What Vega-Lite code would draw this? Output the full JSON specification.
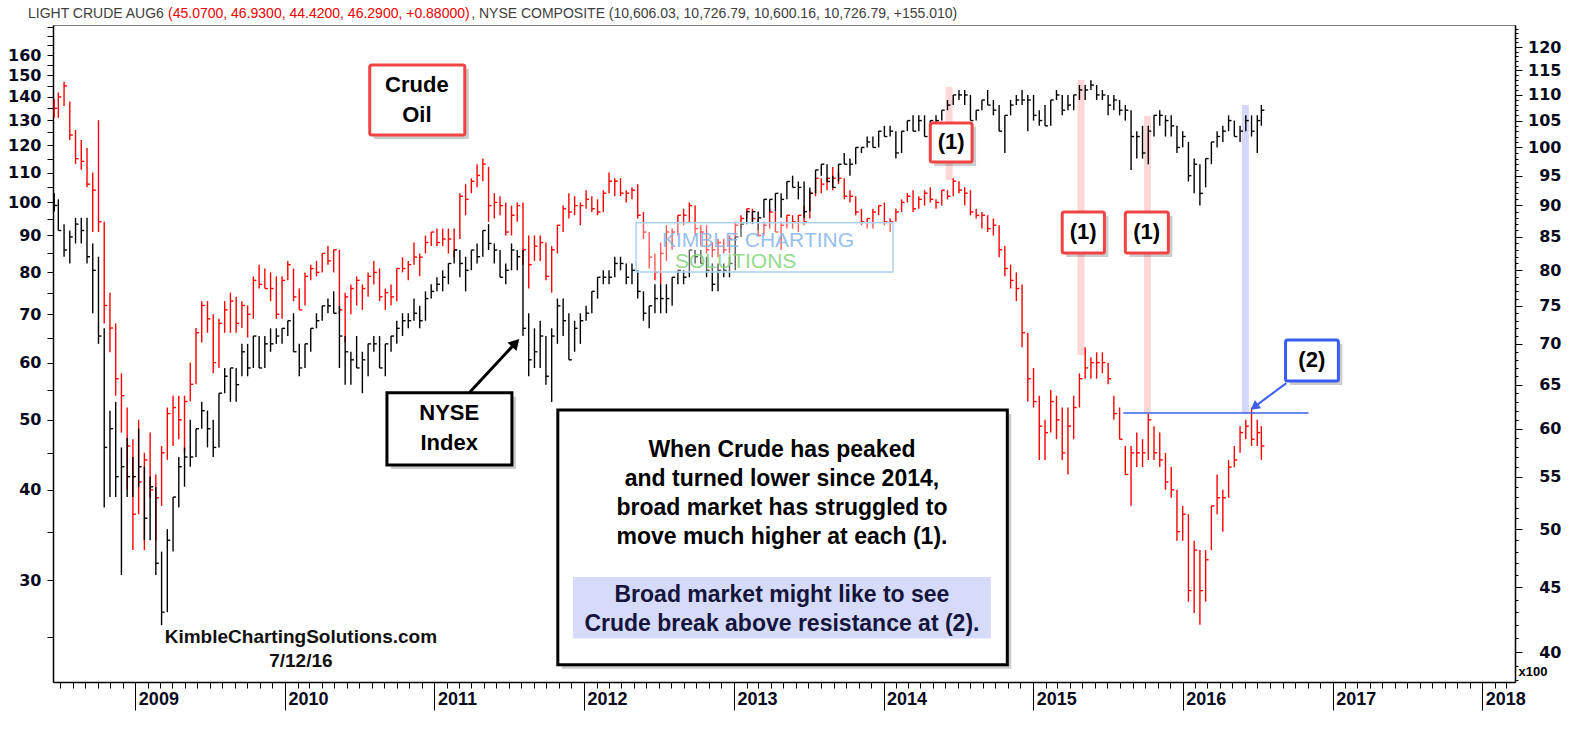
{
"$schema":"https://vega.github.io/schema/vega-lite/v6.json",
"width":1462,"height":657,
"autosize":{"type":"none"},
"padding":{"left":53,"top":25,"right":57,"bottom":52},
"background":"white",
"config":{"view":{"stroke":"#7f7f7f","strokeWidth":1}},
"title":{"text":"LIGHT CRUDE AUG6 \u00a0\u00a0\u00a0\u00a0\u00a0\u00a0\u00a0\u00a0\u00a0\u00a0\u00a0\u00a0\u00a0\u00a0\u00a0\u00a0\u00a0\u00a0\u00a0\u00a0\u00a0\u00a0\u00a0\u00a0\u00a0\u00a0\u00a0\u00a0\u00a0\u00a0\u00a0\u00a0\u00a0\u00a0\u00a0\u00a0\u00a0\u00a0\u00a0\u00a0\u00a0\u00a0\u00a0\u00a0\u00a0\u00a0\u00a0\u00a0\u00a0\u00a0\u00a0\u00a0\u00a0\u00a0\u00a0\u00a0\u00a0\u00a0\u00a0\u00a0\u00a0\u00a0\u00a0\u00a0\u00a0\u00a0\u00a0\u00a0\u00a0\u00a0\u00a0\u00a0\u00a0\u00a0\u00a0\u00a0\u00a0\u00a0, NYSE COMPOSITE (10,606.03, 10,726.79, 10,600.16, 10,726.79, +155.010)",
"subtitle":"\u200b\u00a0\u00a0\u00a0\u00a0\u00a0\u00a0\u00a0\u00a0\u00a0\u00a0\u00a0\u00a0\u00a0\u00a0\u00a0\u00a0\u00a0\u00a0\u00a0\u00a0\u00a0\u00a0\u00a0\u00a0\u00a0\u00a0\u00a0\u00a0\u00a0\u00a0\u00a0\u00a0\u00a0\u00a0\u00a0\u00a0(45.0700, 46.9300, 44.4200, 46.2900, +0.88000)",
"anchor":"start","frame":"group","dx":-25,"dy":6,"offset":4,"font":"Liberation Sans","fontSize":14,"fontWeight":"normal","color":"#404040","subtitleFont":"Liberation Sans","subtitleFontSize":14,"subtitleFontWeight":"normal","subtitleColor":"#ee0000","subtitlePadding":-14},
"datasets":{
"crude":[
{"d":"2008-06-17","h":139,"l":131,"c":135},{"d":"2008-06-27","h":142,"l":131,"c":140},{"d":"2008-07-11","h":147,"l":136,"c":145},{"d":"2008-07-25","h":138,"l":122,"c":124},{"d":"2008-08-08","h":126,"l":113,"c":115},{"d":"2008-08-22","h":122,"l":111,"c":114},{"d":"2008-09-05","h":119,"l":105,"c":106},{"d":"2008-09-19","h":110,"l":91,"c":104},{"d":"2008-10-03","h":130,"l":91,"c":94},{"d":"2008-10-17","h":94,"l":68,"c":72},{"d":"2008-10-31","h":75,"l":62,"c":67},{"d":"2008-11-14","h":68,"l":54,"c":57},{"d":"2008-11-28","h":58,"l":48,"c":54},{"d":"2008-12-12","h":52,"l":40,"c":46},{"d":"2008-12-26","h":47,"l":33,"c":37},
{"d":"2009-01-09","h":50,"l":37,"c":41},{"d":"2009-01-23","h":45,"l":33,"c":44},{"d":"2009-02-06","h":48,"l":39,"c":40},{"d":"2009-02-20","h":42,"l":34,"c":39},{"d":"2009-03-06","h":46,"l":38,"c":45},{"d":"2009-03-20","h":52,"l":44,"c":51},{"d":"2009-04-03","h":54,"l":46,"c":52},{"d":"2009-04-17","h":54,"l":47,"c":50},{"d":"2009-05-01","h":54,"l":45,"c":53},{"d":"2009-05-15","h":60,"l":53,"c":56},{"d":"2009-05-29","h":67,"l":56,"c":66},{"d":"2009-06-12","h":73,"l":64,"c":72},{"d":"2009-06-26","h":73,"l":66,"c":69},{"d":"2009-07-10","h":70,"l":58,"c":60},{"d":"2009-07-24","h":69,"l":59,"c":68},{"d":"2009-08-07","h":73,"l":66,"c":71},{"d":"2009-08-21","h":75,"l":66,"c":73},{"d":"2009-09-04","h":74,"l":66,"c":68},{"d":"2009-09-18","h":73,"l":67,"c":72},{"d":"2009-10-02","h":72,"l":65,"c":70},{"d":"2009-10-16","h":79,"l":69,"c":78},{"d":"2009-10-30","h":82,"l":76,"c":77},{"d":"2009-11-13","h":81,"l":76,"c":76},{"d":"2009-11-27","h":80,"l":73,"c":76},{"d":"2009-12-11","h":79,"l":69,"c":70},{"d":"2009-12-25","h":79,"l":69,"c":78},
{"d":"2010-01-08","h":83,"l":78,"c":82},{"d":"2010-01-22","h":81,"l":73,"c":74},{"d":"2010-02-05","h":76,"l":71,"c":71},{"d":"2010-02-19","h":80,"l":72,"c":79},{"d":"2010-03-05","h":82,"l":78,"c":81},{"d":"2010-03-19","h":83,"l":79,"c":80},{"d":"2010-04-02","h":85,"l":80,"c":85},{"d":"2010-04-16","h":87,"l":82,"c":83},{"d":"2010-04-30","h":86,"l":80,"c":86},{"d":"2010-05-14","h":86,"l":70,"c":71},{"d":"2010-05-28","h":75,"l":64,"c":74},{"d":"2010-06-11","h":77,"l":70,"c":76},{"d":"2010-06-25","h":79,"l":72,"c":78},{"d":"2010-07-09","h":77,"l":71,"c":76},{"d":"2010-07-23","h":80,"l":74,"c":79},{"d":"2010-08-06","h":83,"l":77,"c":80},{"d":"2010-08-20","h":81,"l":73,"c":74},{"d":"2010-09-03","h":76,"l":71,"c":75},{"d":"2010-09-17","h":77,"l":72,"c":74},{"d":"2010-10-01","h":81,"l":73,"c":81},{"d":"2010-10-15","h":84,"l":80,"c":81},{"d":"2010-10-29","h":83,"l":78,"c":82},{"d":"2010-11-12","h":88,"l":82,"c":84},{"d":"2010-11-26","h":85,"l":79,"c":84},{"d":"2010-12-10","h":90,"l":85,"c":88},{"d":"2010-12-24","h":91,"l":87,"c":91},
{"d":"2011-01-07","h":92,"l":87,"c":88},{"d":"2011-01-21","h":92,"l":87,"c":89},{"d":"2011-02-04","h":92,"l":85,"c":89},{"d":"2011-02-18","h":92,"l":84,"c":86},{"d":"2011-03-04","h":103,"l":89,"c":102},{"d":"2011-03-18","h":106,"l":96,"c":101},{"d":"2011-04-01","h":108,"l":103,"c":107},{"d":"2011-04-15","h":113,"l":105,"c":109},{"d":"2011-04-29","h":115,"l":107,"c":113},{"d":"2011-05-13","h":112,"l":94,"c":99},{"d":"2011-05-27","h":103,"l":95,"c":100},{"d":"2011-06-10","h":102,"l":96,"c":99},{"d":"2011-06-24","h":100,"l":90,"c":91},{"d":"2011-07-08","h":99,"l":90,"c":96},{"d":"2011-07-22","h":100,"l":94,"c":99},{"d":"2011-08-05","h":100,"l":82,"c":86},{"d":"2011-08-19","h":90,"l":76,"c":82},{"d":"2011-09-02","h":90,"l":83,"c":87},{"d":"2011-09-16","h":90,"l":83,"c":88},{"d":"2011-09-30","h":88,"l":78,"c":79},{"d":"2011-10-14","h":87,"l":75,"c":86},{"d":"2011-10-28","h":93,"l":85,"c":93},{"d":"2011-11-11","h":99,"l":91,"c":98},{"d":"2011-11-25","h":103,"l":95,"c":97},{"d":"2011-12-09","h":102,"l":96,"c":99},{"d":"2011-12-23","h":100,"l":93,"c":99},
{"d":"2012-01-06","h":104,"l":98,"c":101},{"d":"2012-01-20","h":102,"l":97,"c":98},{"d":"2012-02-03","h":101,"l":96,"c":97},{"d":"2012-02-17","h":104,"l":97,"c":103},{"d":"2012-03-02","h":110,"l":103,"c":107},{"d":"2012-03-16","h":108,"l":102,"c":107},{"d":"2012-03-30","h":108,"l":102,"c":103},{"d":"2012-04-13","h":104,"l":100,"c":103},{"d":"2012-04-27","h":105,"l":101,"c":104},{"d":"2012-05-11","h":106,"l":95,"c":96},{"d":"2012-05-25","h":97,"l":89,"c":91},{"d":"2012-06-08","h":91,"l":81,"c":84},{"d":"2012-06-22","h":85,"l":78,"c":80},{"d":"2012-07-06","h":88,"l":77,"c":85},{"d":"2012-07-20","h":93,"l":83,"c":91},{"d":"2012-08-03","h":92,"l":86,"c":91},{"d":"2012-08-17","h":96,"l":90,"c":96},{"d":"2012-08-31","h":98,"l":93,"c":96},{"d":"2012-09-14","h":100,"l":94,"c":99},{"d":"2012-09-28","h":99,"l":90,"c":92},{"d":"2012-10-12","h":93,"l":87,"c":91},{"d":"2012-10-26","h":93,"l":85,"c":86},{"d":"2012-11-09","h":88,"l":84,"c":86},{"d":"2012-11-23","h":89,"l":84,"c":88},{"d":"2012-12-07","h":89,"l":85,"c":86},{"d":"2012-12-21","h":90,"l":85,"c":89},
{"d":"2013-01-04","h":94,"l":89,"c":93},{"d":"2013-01-18","h":96,"l":92,"c":95},{"d":"2013-02-01","h":98,"l":95,"c":98},{"d":"2013-02-15","h":98,"l":94,"c":95},{"d":"2013-03-01","h":95,"l":90,"c":90},{"d":"2013-03-15","h":94,"l":90,"c":93},{"d":"2013-03-29","h":98,"l":92,"c":97},{"d":"2013-04-12","h":97,"l":91,"c":91},{"d":"2013-04-26","h":94,"l":86,"c":93},{"d":"2013-05-10","h":96,"l":92,"c":96},{"d":"2013-05-24","h":96,"l":92,"c":94},{"d":"2013-06-07","h":96,"l":91,"c":96},{"d":"2013-06-21","h":99,"l":93,"c":94},{"d":"2013-07-05","h":104,"l":95,"c":103},{"d":"2013-07-19","h":108,"l":102,"c":108},{"d":"2013-08-02","h":108,"l":103,"c":106},{"d":"2013-08-16","h":108,"l":104,"c":108},{"d":"2013-08-30","h":112,"l":104,"c":108},{"d":"2013-09-13","h":110,"l":106,"c":108},{"d":"2013-09-27","h":108,"l":101,"c":102},{"d":"2013-10-11","h":104,"l":100,"c":102},{"d":"2013-10-25","h":102,"l":96,"c":97},{"d":"2013-11-08","h":98,"l":93,"c":94},{"d":"2013-11-22","h":95,"l":92,"c":95},{"d":"2013-12-06","h":98,"l":92,"c":97},{"d":"2013-12-20","h":99,"l":96,"c":99},
{"d":"2014-01-03","h":100,"l":93,"c":94},{"d":"2014-01-17","h":95,"l":91,"c":94},{"d":"2014-01-31","h":98,"l":94,"c":97},{"d":"2014-02-14","h":101,"l":97,"c":100},{"d":"2014-02-28","h":103,"l":100,"c":102},{"d":"2014-03-14","h":104,"l":97,"c":98},{"d":"2014-03-28","h":102,"l":98,"c":101},{"d":"2014-04-11","h":104,"l":99,"c":103},{"d":"2014-04-25","h":105,"l":100,"c":101},{"d":"2014-05-09","h":101,"l":98,"c":100},{"d":"2014-05-23","h":104,"l":99,"c":104},{"d":"2014-06-06","h":104,"l":101,"c":102},{"d":"2014-06-20","h":108,"l":102,"c":107},{"d":"2014-07-04","h":107,"l":103,"c":104},{"d":"2014-07-18","h":105,"l":99,"c":103},{"d":"2014-08-01","h":104,"l":96,"c":97},{"d":"2014-08-15","h":98,"l":95,"c":96},{"d":"2014-08-29","h":97,"l":92,"c":96},{"d":"2014-09-12","h":96,"l":91,"c":92},{"d":"2014-09-26","h":95,"l":90,"c":93},{"d":"2014-10-10","h":93,"l":84,"c":86},{"d":"2014-10-24","h":87,"l":79,"c":81},{"d":"2014-11-07","h":82,"l":76,"c":78},{"d":"2014-11-21","h":80,"l":73,"c":76},{"d":"2014-12-05","h":77,"l":63,"c":66},{"d":"2014-12-19","h":66,"l":53,"c":57},
{"d":"2015-01-02","h":59,"l":52,"c":53},{"d":"2015-01-16","h":54,"l":44,"c":49},{"d":"2015-01-30","h":50,"l":44,"c":48},{"d":"2015-02-13","h":55,"l":48,"c":53},{"d":"2015-02-27","h":54,"l":47,"c":50},{"d":"2015-03-13","h":52,"l":44,"c":45},{"d":"2015-03-27","h":52,"l":42,"c":49},{"d":"2015-04-10","h":54,"l":47,"c":52},{"d":"2015-04-24","h":58,"l":52,"c":57},{"d":"2015-05-08","h":63,"l":57,"c":59},{"d":"2015-05-22","h":61,"l":57,"c":60},{"d":"2015-06-05","h":62,"l":57,"c":60},{"d":"2015-06-19","h":62,"l":58,"c":60},{"d":"2015-07-03","h":60,"l":56,"c":57},{"d":"2015-07-17","h":54,"l":50,"c":51},{"d":"2015-07-31","h":52,"l":47,"c":47},{"d":"2015-08-14","h":46,"l":42,"c":42},{"d":"2015-08-28","h":46,"l":38,"c":45},{"d":"2015-09-11","h":48,"l":43,"c":45},{"d":"2015-09-25","h":47,"l":43,"c":45},{"d":"2015-10-09","h":51,"l":44,"c":50},{"d":"2015-10-23","h":49,"l":44,"c":45},{"d":"2015-11-06","h":48,"l":43,"c":44},{"d":"2015-11-20","h":45,"l":40,"c":41},{"d":"2015-12-04","h":43,"l":39,"c":40},{"d":"2015-12-18","h":40,"l":34,"c":35},
{"d":"2016-01-01","h":38,"l":34,"c":37},{"d":"2016-01-15","h":37,"l":28,"c":29},{"d":"2016-01-29","h":34,"l":27,"c":33},{"d":"2016-02-12","h":33,"l":26,"c":29},{"d":"2016-02-26","h":33,"l":28,"c":32},{"d":"2016-03-11","h":38,"l":33,"c":38},{"d":"2016-03-25","h":42,"l":37,"c":39},{"d":"2016-04-08","h":40,"l":35,"c":39},{"d":"2016-04-22","h":44,"l":39,"c":43},{"d":"2016-05-06","h":46,"l":43,"c":44},{"d":"2016-05-20","h":49,"l":45,"c":48},{"d":"2016-06-03","h":50,"l":47,"c":49},{"d":"2016-06-17","h":52,"l":46,"c":47},{"d":"2016-07-01","h":50,"l":46,"c":48},{"d":"2016-07-11","h":49,"l":44,"c":46}
],
"nyse":[
{"d":"2008-06-17","h":92,"l":89,"c":90},{"d":"2008-06-27","h":91,"l":86,"c":86},{"d":"2008-07-11","h":87,"l":82,"c":83},{"d":"2008-07-25","h":86,"l":81,"c":85},{"d":"2008-08-08","h":88,"l":84,"c":87},{"d":"2008-08-22","h":88,"l":84,"c":86},{"d":"2008-09-05","h":88,"l":81,"c":82},{"d":"2008-09-19","h":84,"l":74,"c":80},{"d":"2008-10-03","h":82,"l":70,"c":71},{"d":"2008-10-17","h":72,"l":52,"c":58},{"d":"2008-10-31","h":62,"l":53,"c":60},{"d":"2008-11-14","h":63,"l":53,"c":55},{"d":"2008-11-28","h":58,"l":46,"c":56},{"d":"2008-12-12","h":59,"l":53,"c":55},{"d":"2008-12-26","h":57,"l":53,"c":55},
{"d":"2009-01-09","h":60,"l":54,"c":56},{"d":"2009-01-23","h":56,"l":49,"c":51},{"d":"2009-02-06","h":55,"l":49,"c":54},{"d":"2009-02-20","h":54,"l":46,"c":47},{"d":"2009-03-06","h":48,"l":42,"c":43},{"d":"2009-03-20","h":50,"l":43,"c":49},{"d":"2009-04-03","h":53,"l":48,"c":53},{"d":"2009-04-17","h":57,"l":52,"c":56},{"d":"2009-05-01","h":58,"l":54,"c":57},{"d":"2009-05-15","h":61,"l":56,"c":57},{"d":"2009-05-29","h":60,"l":57,"c":60},{"d":"2009-06-12","h":63,"l":60,"c":62},{"d":"2009-06-26","h":62,"l":58,"c":60},{"d":"2009-07-10","h":61,"l":57,"c":58},{"d":"2009-07-24","h":64,"l":58,"c":64},{"d":"2009-08-07","h":67,"l":64,"c":66},{"d":"2009-08-21","h":67,"l":63,"c":67},{"d":"2009-09-04","h":67,"l":63,"c":65},{"d":"2009-09-18","h":70,"l":66,"c":69},{"d":"2009-10-02","h":70,"l":66,"c":67},{"d":"2009-10-16","h":71,"l":67,"c":71},{"d":"2009-10-30","h":71,"l":67,"c":67},{"d":"2009-11-13","h":71,"l":67,"c":70},{"d":"2009-11-27","h":72,"l":69,"c":70},{"d":"2009-12-11","h":72,"l":70,"c":71},{"d":"2009-12-25","h":72,"l":70,"c":72},
{"d":"2010-01-08","h":73,"l":71,"c":73},{"d":"2010-01-22","h":74,"l":69,"c":69},{"d":"2010-02-05","h":70,"l":66,"c":67},{"d":"2010-02-19","h":70,"l":67,"c":70},{"d":"2010-03-05","h":72,"l":69,"c":72},{"d":"2010-03-19","h":74,"l":72,"c":73},{"d":"2010-04-02","h":75,"l":73,"c":75},{"d":"2010-04-16","h":76,"l":74,"c":75},{"d":"2010-04-30","h":77,"l":74,"c":74},{"d":"2010-05-14","h":75,"l":67,"c":71},{"d":"2010-05-28","h":71,"l":65,"c":69},{"d":"2010-06-11","h":69,"l":65,"c":68},{"d":"2010-06-25","h":71,"l":67,"c":67},{"d":"2010-07-09","h":69,"l":64,"c":68},{"d":"2010-07-23","h":70,"l":66,"c":70},{"d":"2010-08-06","h":71,"l":69,"c":70},{"d":"2010-08-20","h":71,"l":67,"c":67},{"d":"2010-09-03","h":70,"l":66,"c":70},{"d":"2010-09-17","h":71,"l":69,"c":71},{"d":"2010-10-01","h":73,"l":70,"c":72},{"d":"2010-10-15","h":74,"l":71,"c":73},{"d":"2010-10-29","h":74,"l":72,"c":73},{"d":"2010-11-12","h":76,"l":73,"c":74},{"d":"2010-11-26","h":75,"l":72,"c":73},{"d":"2010-12-10","h":77,"l":73,"c":76},{"d":"2010-12-24","h":78,"l":76,"c":77},
{"d":"2011-01-07","h":79,"l":77,"c":78},{"d":"2011-01-21","h":80,"l":77,"c":79},{"d":"2011-02-04","h":81,"l":78,"c":81},{"d":"2011-02-18","h":83,"l":81,"c":83},{"d":"2011-03-04","h":83,"l":79,"c":81},{"d":"2011-03-18","h":82,"l":77,"c":80},{"d":"2011-04-01","h":83,"l":80,"c":83},{"d":"2011-04-15","h":84,"l":81,"c":82},{"d":"2011-04-29","h":86,"l":82,"c":86},{"d":"2011-05-13","h":87,"l":83,"c":84},{"d":"2011-05-27","h":84,"l":81,"c":83},{"d":"2011-06-10","h":83,"l":79,"c":79},{"d":"2011-06-24","h":81,"l":78,"c":80},{"d":"2011-07-08","h":84,"l":80,"c":83},{"d":"2011-07-22","h":83,"l":80,"c":82},{"d":"2011-08-05","h":83,"l":71,"c":72},{"d":"2011-08-19","h":74,"l":66,"c":68},{"d":"2011-09-02","h":72,"l":67,"c":69},{"d":"2011-09-16","h":73,"l":67,"c":71},{"d":"2011-09-30","h":71,"l":65,"c":66},{"d":"2011-10-14","h":72,"l":63,"c":71},{"d":"2011-10-28","h":76,"l":70,"c":75},{"d":"2011-11-11","h":76,"l":71,"c":73},{"d":"2011-11-25","h":74,"l":68,"c":68},{"d":"2011-12-09","h":73,"l":69,"c":72},{"d":"2011-12-23","h":74,"l":70,"c":73},
{"d":"2012-01-06","h":75,"l":73,"c":74},{"d":"2012-01-20","h":77,"l":74,"c":77},{"d":"2012-02-03","h":79,"l":76,"c":79},{"d":"2012-02-17","h":80,"l":78,"c":79},{"d":"2012-03-02","h":80,"l":78,"c":79},{"d":"2012-03-16","h":82,"l":79,"c":81},{"d":"2012-03-30","h":82,"l":80,"c":81},{"d":"2012-04-13","h":81,"l":78,"c":79},{"d":"2012-04-27","h":81,"l":78,"c":80},{"d":"2012-05-11","h":80,"l":76,"c":77},{"d":"2012-05-25","h":77,"l":73,"c":74},{"d":"2012-06-08","h":75,"l":72,"c":75},{"d":"2012-06-22","h":78,"l":74,"c":76},{"d":"2012-07-06","h":78,"l":74,"c":76},{"d":"2012-07-20","h":78,"l":74,"c":76},{"d":"2012-08-03","h":79,"l":75,"c":79},{"d":"2012-08-17","h":80,"l":78,"c":80},{"d":"2012-08-31","h":80,"l":78,"c":79},{"d":"2012-09-14","h":83,"l":79,"c":83},{"d":"2012-09-28","h":83,"l":81,"c":82},{"d":"2012-10-12","h":83,"l":81,"c":81},{"d":"2012-10-26","h":82,"l":79,"c":80},{"d":"2012-11-09","h":81,"l":77,"c":78},{"d":"2012-11-23","h":81,"l":77,"c":80},{"d":"2012-12-07","h":81,"l":79,"c":80},{"d":"2012-12-21","h":82,"l":79,"c":81},
{"d":"2013-01-04","h":85,"l":80,"c":85},{"d":"2013-01-18","h":87,"l":85,"c":87},{"d":"2013-02-01","h":89,"l":87,"c":89},{"d":"2013-02-15","h":89,"l":87,"c":89},{"d":"2013-03-01","h":89,"l":86,"c":88},{"d":"2013-03-15","h":91,"l":88,"c":91},{"d":"2013-03-29","h":91,"l":89,"c":91},{"d":"2013-04-12","h":92,"l":89,"c":92},{"d":"2013-04-26","h":92,"l":88,"c":91},{"d":"2013-05-10","h":94,"l":91,"c":94},{"d":"2013-05-24","h":95,"l":93,"c":93},{"d":"2013-06-07","h":94,"l":91,"c":93},{"d":"2013-06-21","h":94,"l":88,"c":89},{"d":"2013-07-05","h":93,"l":89,"c":92},{"d":"2013-07-19","h":96,"l":92,"c":96},{"d":"2013-08-02","h":97,"l":95,"c":97},{"d":"2013-08-16","h":97,"l":94,"c":94},{"d":"2013-08-30","h":95,"l":93,"c":93},{"d":"2013-09-13","h":97,"l":94,"c":97},{"d":"2013-09-27","h":99,"l":97,"c":97},{"d":"2013-10-11","h":98,"l":95,"c":97},{"d":"2013-10-25","h":100,"l":97,"c":100},{"d":"2013-11-08","h":100,"l":99,"c":100},{"d":"2013-11-22","h":102,"l":100,"c":101},{"d":"2013-12-06","h":102,"l":100,"c":100},{"d":"2013-12-20","h":103,"l":100,"c":103},
{"d":"2014-01-03","h":104,"l":102,"c":102},{"d":"2014-01-17","h":104,"l":102,"c":103},{"d":"2014-01-31","h":103,"l":98,"c":99},{"d":"2014-02-14","h":103,"l":99,"c":103},{"d":"2014-02-28","h":105,"l":103,"c":105},{"d":"2014-03-14","h":106,"l":103,"c":103},{"d":"2014-03-28","h":106,"l":103,"c":105},{"d":"2014-04-11","h":106,"l":102,"c":102},{"d":"2014-04-25","h":105,"l":102,"c":105},{"d":"2014-05-09","h":106,"l":104,"c":105},{"d":"2014-05-23","h":107,"l":105,"c":107},{"d":"2014-06-06","h":109,"l":107,"c":108},{"d":"2014-06-20","h":110,"l":108,"c":110},{"d":"2014-07-04","h":111,"l":109,"c":110},{"d":"2014-07-18","h":111,"l":108,"c":110},{"d":"2014-08-01","h":110,"l":105,"c":105},{"d":"2014-08-15","h":107,"l":105,"c":107},{"d":"2014-08-29","h":109,"l":107,"c":109},{"d":"2014-09-12","h":111,"l":108,"c":108},{"d":"2014-09-26","h":109,"l":106,"c":107},{"d":"2014-10-10","h":108,"l":103,"c":103},{"d":"2014-10-24","h":106,"l":99,"c":106},{"d":"2014-11-07","h":109,"l":106,"c":108},{"d":"2014-11-21","h":110,"l":108,"c":109},{"d":"2014-12-05","h":111,"l":108,"c":109},{"d":"2014-12-19","h":110,"l":103,"c":109},
{"d":"2015-01-02","h":110,"l":105,"c":106},{"d":"2015-01-16","h":107,"l":104,"c":105},{"d":"2015-01-30","h":108,"l":104,"c":104},{"d":"2015-02-13","h":109,"l":104,"c":109},{"d":"2015-02-27","h":111,"l":109,"c":110},{"d":"2015-03-13","h":110,"l":106,"c":107},{"d":"2015-03-27","h":110,"l":107,"c":108},{"d":"2015-04-10","h":110,"l":107,"c":110},{"d":"2015-04-24","h":112,"l":109,"c":111},{"d":"2015-05-08","h":112,"l":109,"c":111},{"d":"2015-05-22","h":113,"l":111,"c":112},{"d":"2015-06-05","h":112,"l":109,"c":110},{"d":"2015-06-19","h":111,"l":109,"c":110},{"d":"2015-07-03","h":110,"l":106,"c":108},{"d":"2015-07-17","h":110,"l":107,"c":109},{"d":"2015-07-31","h":109,"l":106,"c":107},{"d":"2015-08-14","h":108,"l":105,"c":107},{"d":"2015-08-28","h":107,"l":96,"c":102},{"d":"2015-09-11","h":103,"l":98,"c":102},{"d":"2015-09-25","h":104,"l":98,"c":99},{"d":"2015-10-09","h":104,"l":97,"c":103},{"d":"2015-10-23","h":106,"l":102,"c":106},{"d":"2015-11-06","h":107,"l":104,"c":106},{"d":"2015-11-20","h":106,"l":102,"c":105},{"d":"2015-12-04","h":106,"l":102,"c":104},{"d":"2015-12-18","h":104,"l":99,"c":100},
{"d":"2016-01-01","h":103,"l":100,"c":102},{"d":"2016-01-15","h":101,"l":94,"c":95},{"d":"2016-01-29","h":98,"l":92,"c":97},{"d":"2016-02-12","h":97,"l":90,"c":92},{"d":"2016-02-26","h":98,"l":93,"c":98},{"d":"2016-03-11","h":101,"l":97,"c":101},{"d":"2016-03-25","h":103,"l":100,"c":102},{"d":"2016-04-08","h":104,"l":101,"c":103},{"d":"2016-04-22","h":106,"l":103,"c":105},{"d":"2016-05-06","h":105,"l":102,"c":102},{"d":"2016-05-20","h":104,"l":101,"c":103},{"d":"2016-06-03","h":106,"l":103,"c":105},{"d":"2016-06-17","h":106,"l":102,"c":103},{"d":"2016-07-01","h":106,"l":99,"c":105},{"d":"2016-07-11","h":108,"l":104,"c":107}
]},
"encoding":{"x":{"field":"d","type":"temporal","title":null,"scale":{"domain":[{"year":2008,"month":6,"date":14},{"year":2018,"month":3,"date":22}],"nice":false},
 "axis":{"orient":"bottom","title":null,"grid":false,"tickCount":{"interval":"month","step":1},"labelExpr":"month(datum.value)===0 ? timeFormat(datum.value,'%Y') : ''","tickSize":28,"tickColor":"#000","tickWidth":1,"tickDash":{"condition":{"test":"month(datum.value)===0","value":[30,2]},"value":[6,40]},"domainColor":"#000","domainWidth":1.5,"labelAlign":"left","labelOffset":3,"labelBaseline":"middle","labelPadding":-11,"labelFont":"Liberation Sans","labelFontWeight":"bold","labelFontSize":18,"labelColor":"#0a0a1e","labelOverlap":false,"labelFlush":false,"labelBound":false}}},
"layer":[
 {"data":{"values":[{"d":"2014-06-10","lo":107.4,"hi":144.5},{"d":"2015-04-28","lo":61.5,"hi":147.8},{"d":"2015-10-07","lo":51.1,"hi":131.7}]},
  "mark":{"type":"rule","strokeWidth":7,"color":"#ff9c9c","opacity":0.4},
  "encoding":{"y":{"field":"lo","type":"quantitative","scale":{"type":"log","domain":[21.67,176.1],"nice":false},"axis":null},"y2":{"field":"hi"}}},
 {"data":{"values":[{"d":"2016-06-02","lo":51.1,"hi":136.4}]},
  "mark":{"type":"rule","strokeWidth":7,"color":"#9fa9f4","opacity":0.45},
  "encoding":{"y":{"field":"lo","type":"quantitative","scale":{"type":"log","domain":[21.67,176.1],"nice":false},"axis":null},"y2":{"field":"hi"}}},
 {"data":{"name":"crude"},"mark":{"type":"rule","color":"#ff0000","strokeWidth":1.4},
  "encoding":{"y":{"field":"l","type":"quantitative","scale":{"type":"log","domain":[21.67,176.1],"nice":false},
    "axis":{"orient":"left","title":null,"grid":false,"values":[25,30,35,40,45,50,55,60,65,70,75,80,85,90,95,100,105,110,115,120,125,130,135,140,145,150,155,160,165,170,175],"labelExpr":"(datum.value%10===0 && datum.value>=30 && datum.value<=160) ? format(datum.value,'d') : ''","tickSize":6,"tickColor":"#000","domainColor":"#000","domainWidth":1.5,"labelPadding":6,"labelFont":"DejaVu Sans","labelFontWeight":"bold","labelFontSize":16,"labelColor":"#0a0a1e","labelOverlap":false,"labelBound":false,"labelFlush":false}},
   "y2":{"field":"h"}}},
 {"data":{"name":"crude"},"mark":{"type":"rule","color":"#ff0000","strokeWidth":1.4,"x2Offset":3},
  "encoding":{"x2":{"field":"d"},"y":{"field":"c","type":"quantitative","scale":{"type":"log","domain":[21.67,176.1],"nice":false},"axis":null}}},
 {"data":{"name":"nyse"},"mark":{"type":"rule","color":"#000000","strokeWidth":1.4},
  "encoding":{"y":{"field":"l","type":"quantitative","scale":{"type":"log","domain":[37.88,124.9],"nice":false},
    "axis":{"orient":"right","grid":false,"title":"x100","titleAngle":0,"titleX":3,"titleY":646,"titleAlign":"left","titleBaseline":"middle","titleFont":"Liberation Sans","titleFontSize":13,"titleFontWeight":"bold","titleColor":"#000","values":[38,39,40,41,42,43,44,45,46,47,48,49,50,51,52,53,54,55,56,57,58,59,60,61,62,63,64,65,66,67,68,69,70,71,72,73,74,75,76,77,78,79,80,81,82,83,84,85,86,87,88,89,90,91,92,93,94,95,96,97,98,99,100,101,102,103,104,105,106,107,108,109,110,111,112,113,114,115,116,117,118,119,120,121,122,123,124],"labelExpr":"(datum.value%5===0 && datum.value>=40 && datum.value<=120) ? format(datum.value,'d') : ''","tickSize":7,"tickColor":"#000","tickDash":{"condition":{"test":"datum.value%5===0","value":[8,2]},"value":[3,20]},"domainColor":"#000","domainWidth":1.5,"labelAlign":"right","labelPadding":39,"labelFont":"DejaVu Sans","labelFontWeight":"bold","labelFontSize":16,"labelColor":"#0a0a1e","labelOverlap":false,"labelBound":false,"labelFlush":false}},
   "y2":{"field":"h"}}},
 {"data":{"name":"nyse"},"mark":{"type":"rule","color":"#000000","strokeWidth":1.4,"x2Offset":3},
  "encoding":{"x2":{"field":"d"},"y":{"field":"c","type":"quantitative","scale":{"type":"log","domain":[37.88,124.9],"nice":false},"axis":null}}},
 {"data":{"values":[{"d":"2012-05-07","d2":"2014-01-24","v":93.7,"v2":80.1}]},
  "mark":{"type":"rect","fill":"white","fillOpacity":0.35,"stroke":"#a9d2f2","strokeWidth":1.5},
  "encoding":{"x2":{"field":"d2"},"y":{"field":"v","type":"quantitative","scale":{"type":"log","domain":[21.67,176.1],"nice":false},"axis":null},"y2":{"field":"v2"}}},
 {"data":{"values":[{"d":"2012-07-09","v":88.4,"t":"KIMBLE CHARTING"}]},
  "mark":{"type":"text","font":"Liberation Sans","fontSize":21,"color":"#86b6ea","opacity":0.85,"align":"left","baseline":"middle"},
  "encoding":{"y":{"field":"v","type":"quantitative","scale":{"type":"log","domain":[21.67,176.1],"nice":false},"axis":null},"text":{"field":"t"}}},
 {"data":{"values":[{"d":"2012-08-10","v":82.7,"t":"SOLUTIONS"}]},
  "mark":{"type":"text","font":"Liberation Sans","fontSize":21,"color":"#84d478","opacity":0.85,"align":"left","baseline":"middle"},
  "encoding":{"y":{"field":"v","type":"quantitative","scale":{"type":"log","domain":[21.67,176.1],"nice":false},"axis":null},"text":{"field":"t"}}},
 {"data":{"values":[{"d":"2010-02-09","v":25.0,"t":"KimbleChartingSolutions.com"},{"d":"2010-02-09","v":23.2,"t":"7/12/16"}]},
  "mark":{"type":"text","font":"Liberation Sans","fontWeight":"bold","fontSize":19,"color":"#111111","align":"center","baseline":"middle"},
  "encoding":{"y":{"field":"v","type":"quantitative","scale":{"type":"log","domain":[21.67,176.1],"nice":false},"axis":null},"text":{"field":"t"}}},
 {"data":{"values":[{"d":"2011-10-29","d2":"2014-10-30","v":51.6,"v2":22.9},{"d":"2010-07-27","d2":"2011-03-16","v":155.0,"v2":124.0},{"d":"2010-09-07","d2":"2011-07-09","v":54.5,"v2":43.3},{"d":"2014-04-25","d2":"2014-08-05","v":128.8,"v2":113.8},{"d":"2015-03-13","d2":"2015-06-24","v":97.0,"v2":85.1},{"d":"2015-08-14","d2":"2015-11-27","v":97.0,"v2":85.1},{"d":"2016-09-08","d2":"2017-01-15","v":64.5,"v2":56.6}]},
  "mark":{"type":"rect","fill":"#000000","opacity":0.2,"xOffset":4,"x2Offset":4,"yOffset":4,"y2Offset":4},
  "encoding":{"x2":{"field":"d2"},"y":{"field":"v","type":"quantitative","scale":{"type":"log","domain":[21.67,176.1],"nice":false},"axis":null},"y2":{"field":"v2"}}},
 {"data":{"values":[{"d":"2011-10-29","d2":"2014-10-30","v":51.6,"v2":22.9},{"d":"2010-09-07","d2":"2011-07-09","v":54.5,"v2":43.3}]},
  "mark":{"type":"rect","fill":"white","stroke":"#000000","strokeWidth":3},
  "encoding":{"x2":{"field":"d2"},"y":{"field":"v","type":"quantitative","scale":{"type":"log","domain":[21.67,176.1],"nice":false},"axis":null},"y2":{"field":"v2"}}},
 {"data":{"values":[{"d":"2010-07-27","d2":"2011-03-16","v":155.0,"v2":124.0},{"d":"2014-04-25","d2":"2014-08-05","v":128.8,"v2":113.8},{"d":"2015-03-13","d2":"2015-06-24","v":97.0,"v2":85.1},{"d":"2015-08-14","d2":"2015-11-27","v":97.0,"v2":85.1}]},
  "mark":{"type":"rect","fill":"white","stroke":"#f04444","strokeWidth":3,"cornerRadius":2},
  "encoding":{"x2":{"field":"d2"},"y":{"field":"v","type":"quantitative","scale":{"type":"log","domain":[21.67,176.1],"nice":false},"axis":null},"y2":{"field":"v2"}}},
 {"data":{"values":[{"d":"2016-09-08","d2":"2017-01-15","v":64.5,"v2":56.6}]},
  "mark":{"type":"rect","fill":"white","stroke":"#3a5cf0","strokeWidth":3,"cornerRadius":2},
  "encoding":{"x2":{"field":"d2"},"y":{"field":"v","type":"quantitative","scale":{"type":"log","domain":[21.67,176.1],"nice":false},"axis":null},"y2":{"field":"v2"}}},
 {"data":{"values":[{"d":"2011-12-05","d2":"2014-09-20","v":30.3,"v2":24.9}]},
  "mark":{"type":"rect","fill":"#d5dbf8"},
  "encoding":{"x2":{"field":"d2"},"y":{"field":"v","type":"quantitative","scale":{"type":"log","domain":[21.67,176.1],"nice":false},"axis":null},"y2":{"field":"v2"}}},
 {"data":{"values":[{"d":"2013-04-28","v":45.4,"t":"When Crude has peaked"},{"d":"2013-04-28","v":41.4,"t":"and turned lower since 2014,"},{"d":"2013-04-28","v":37.7,"t":"broad market has struggled to"},{"d":"2013-04-28","v":34.4,"t":"move much higher at each (1)."}]},
  "mark":{"type":"text","font":"Liberation Sans","fontWeight":"bold","fontSize":23,"color":"#000000","align":"center","baseline":"middle"},
  "encoding":{"y":{"field":"v","type":"quantitative","scale":{"type":"log","domain":[21.67,176.1],"nice":false},"axis":null},"text":{"field":"t"}}},
 {"data":{"values":[{"d":"2013-04-28","v":28.6,"t":"Broad market might like to see"},{"d":"2013-04-28","v":26.1,"t":"Crude break above resistance at (2)."}]},
  "mark":{"type":"text","font":"Liberation Sans","fontWeight":"bold","fontSize":23,"color":"#14143c","align":"center","baseline":"middle"},
  "encoding":{"y":{"field":"v","type":"quantitative","scale":{"type":"log","domain":[21.67,176.1],"nice":false},"axis":null},"text":{"field":"t"}}},
 {"data":{"values":[{"d":"2010-11-19","v":145.4,"t":"Crude"},{"d":"2010-11-19","v":132.2,"t":"Oil"},{"d":"2011-02-06","v":51.1,"t":"NYSE"},{"d":"2011-02-06","v":46.4,"t":"Index"},{"d":"2014-06-15","v":121.3,"t":"(1)"},{"d":"2015-05-03","v":91.0,"t":"(1)"},{"d":"2015-10-05","v":91.0,"t":"(1)"},{"d":"2016-11-11","v":60.5,"t":"(2)"}]},
  "mark":{"type":"text","font":"Liberation Sans","fontWeight":"bold","fontSize":22,"color":"#000000","align":"center","baseline":"middle"},
  "encoding":{"y":{"field":"v","type":"quantitative","scale":{"type":"log","domain":[21.67,176.1],"nice":false},"axis":null},"text":{"field":"t"}}},
 {"data":{"values":[{"d":"2011-03-28","v":54.6,"d2":"2011-07-18","v2":63.9}]},
  "mark":{"type":"rule","color":"#000000","strokeWidth":3},
  "encoding":{"x2":{"field":"d2"},"y":{"field":"v","type":"quantitative","scale":{"type":"log","domain":[21.67,176.1],"nice":false},"axis":null},"y2":{"field":"v2"}}},
 {"data":{"values":[{"d":"2011-07-18","v":63.9}]},
  "mark":{"type":"point","shape":"triangle-up","angle":43,"size":150,"filled":true,"color":"#000000","opacity":1},
  "encoding":{"y":{"field":"v","type":"quantitative","scale":{"type":"log","domain":[21.67,176.1],"nice":false},"axis":null}}},
 {"data":{"values":[{"d":"2015-08-09","d2":"2016-11-03","v":51.1}]},
  "mark":{"type":"rule","color":"#3f5fee","strokeWidth":1.5},
  "encoding":{"x2":{"field":"d2"},"y":{"field":"v","type":"quantitative","scale":{"type":"log","domain":[21.67,176.1],"nice":false},"axis":null}}},
 {"data":{"values":[{"d":"2016-09-10","v":56.2,"d2":"2016-06-24","v2":52.1}]},
  "mark":{"type":"rule","color":"#3f5fee","strokeWidth":2},
  "encoding":{"x2":{"field":"d2"},"y":{"field":"v","type":"quantitative","scale":{"type":"log","domain":[21.67,176.1],"nice":false},"axis":null},"y2":{"field":"v2"}}},
 {"data":{"values":[{"d":"2016-06-24","v":52.1}]},
  "mark":{"type":"point","shape":"triangle-up","angle":233,"size":110,"filled":true,"color":"#3f5fee","opacity":1},
  "encoding":{"y":{"field":"v","type":"quantitative","scale":{"type":"log","domain":[21.67,176.1],"nice":false},"axis":null}}}
],
"resolve":{"scale":{"y":"independent"}}
}
